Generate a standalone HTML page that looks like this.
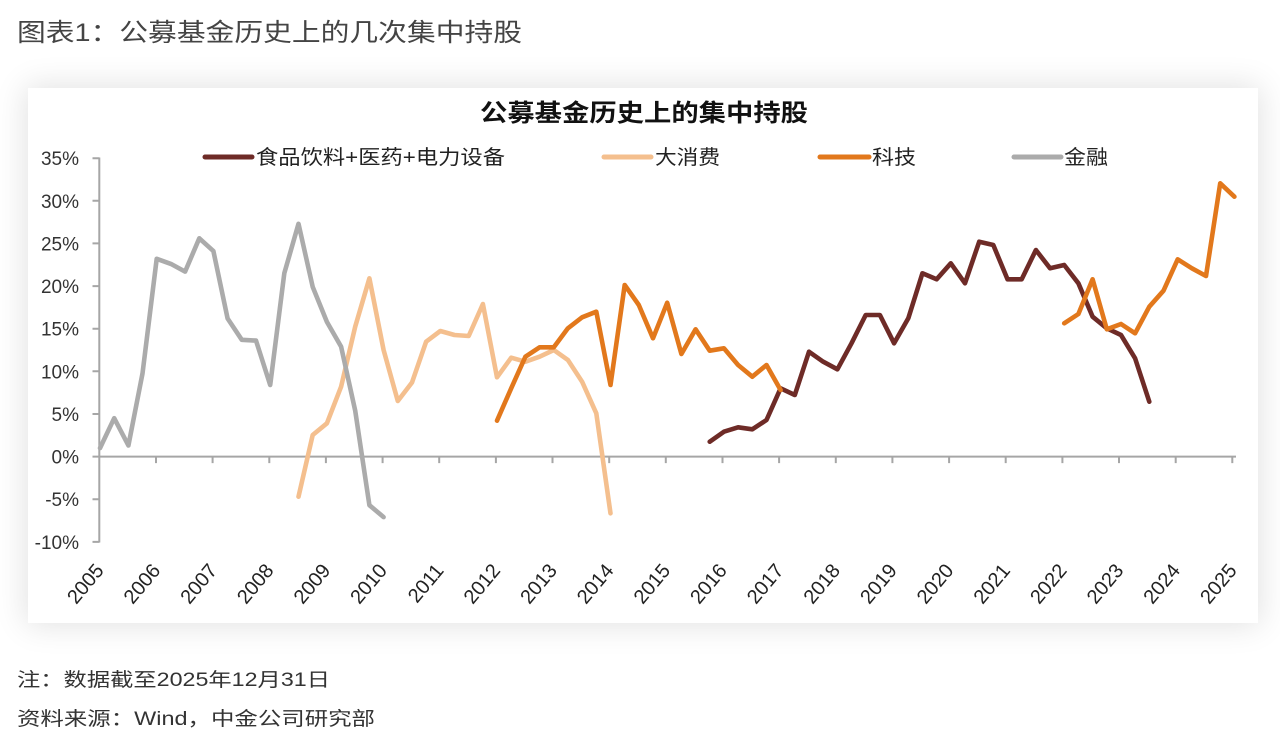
<!DOCTYPE html>
<html><head><meta charset="utf-8">
<style>
html,body{margin:0;padding:0;background:#fff;}
body{width:1280px;height:744px;position:relative;overflow:hidden;}
.card{position:absolute;left:28px;top:88px;width:1230px;height:535px;background:#fff;box-shadow:0 0 30px 2px rgba(0,0,0,0.12);}
svg{position:absolute;left:0;top:0;}
text{font-family:"Liberation Sans","Noto Sans CJK SC",sans-serif;}
</style></head>
<body>
<div class="card"></div>
<svg width="1280" height="744" viewBox="0 0 1280 744" xmlns="http://www.w3.org/2000/svg">
<!-- headings -->
<text x="17" y="41" font-size="25" fill="#444" textLength="505" lengthAdjust="spacingAndGlyphs">图表1：公募基金历史上的几次集中持股</text>
<text x="480" y="121" font-size="24" font-weight="bold" fill="#111" textLength="328" lengthAdjust="spacingAndGlyphs">公募基金历史上的集中持股</text>

<!-- legend -->
<g stroke-width="5" stroke-linecap="round" fill="none">
<line x1="205" y1="157" x2="252" y2="157" stroke="#6E2B27"/>
<line x1="604" y1="157" x2="651" y2="157" stroke="#F4BF8E"/>
<line x1="820" y1="157" x2="869" y2="157" stroke="#E2781C"/>
<line x1="1014" y1="157" x2="1061" y2="157" stroke="#ABABAB"/>
</g>
<g font-size="20" fill="#222">
<text x="256" y="164" textLength="249" lengthAdjust="spacingAndGlyphs">食品饮料+医药+电力设备</text>
<text x="655" y="164" textLength="65" lengthAdjust="spacingAndGlyphs">大消费</text>
<text x="872" y="164" textLength="44" lengthAdjust="spacingAndGlyphs">科技</text>
<text x="1064" y="164" textLength="44" lengthAdjust="spacingAndGlyphs">金融</text>
</g>

<!-- axes -->
<g stroke="#A6A6A6" stroke-width="2" fill="none">
<line x1="99.3" y1="157.5" x2="99.3" y2="542.5"/>
<line x1="99.3" y1="456.6" x2="1236" y2="456.6"/>
<path d="M92.5 158.2H99.3M92.5 200.8H99.3M92.5 243.4H99.3M92.5 286.1H99.3M92.5 328.7H99.3M92.5 371.3H99.3M92.5 414H99.3M92.5 456.6H99.3M92.5 499.2H99.3M92.5 541.9H99.3"/>
<path d="M156 456.6v6.5M212.6 456.6v6.5M269.3 456.6v6.5M325.9 456.6v6.5M382.6 456.6v6.5M439.2 456.6v6.5M495.9 456.6v6.5M552.5 456.6v6.5M609.2 456.6v6.5M665.8 456.6v6.5M722.5 456.6v6.5M779.1 456.6v6.5M835.8 456.6v6.5M892.4 456.6v6.5M949.1 456.6v6.5M1005.7 456.6v6.5M1062.4 456.6v6.5M1119 456.6v6.5M1175.7 456.6v6.5M1232.3 456.6v6.5"/>
</g>

<!-- y labels -->
<g font-size="19" fill="#333" text-anchor="end">
<text x="79" y="165.2">35%</text>
<text x="79" y="207.8">30%</text>
<text x="79" y="250.4">25%</text>
<text x="79" y="293.1">20%</text>
<text x="79" y="335.7">15%</text>
<text x="79" y="378.3">10%</text>
<text x="79" y="421">5%</text>
<text x="79" y="463.6">0%</text>
<text x="79" y="506.2">-5%</text>
<text x="79" y="548.9">-10%</text>
</g>

<!-- x labels -->
<g font-size="20" fill="#222" text-anchor="end">
<text transform="translate(104.8,571) rotate(-50)">2005</text>
<text transform="translate(161.4,571) rotate(-50)">2006</text>
<text transform="translate(218.1,571) rotate(-50)">2007</text>
<text transform="translate(274.7,571) rotate(-50)">2008</text>
<text transform="translate(331.4,571) rotate(-50)">2009</text>
<text transform="translate(388,571) rotate(-50)">2010</text>
<text transform="translate(444.7,571) rotate(-50)">2011</text>
<text transform="translate(501.3,571) rotate(-50)">2012</text>
<text transform="translate(558,571) rotate(-50)">2013</text>
<text transform="translate(614.6,571) rotate(-50)">2014</text>
<text transform="translate(671.3,571) rotate(-50)">2015</text>
<text transform="translate(727.9,571) rotate(-50)">2016</text>
<text transform="translate(784.6,571) rotate(-50)">2017</text>
<text transform="translate(841.2,571) rotate(-50)">2018</text>
<text transform="translate(897.9,571) rotate(-50)">2019</text>
<text transform="translate(954.5,571) rotate(-50)">2020</text>
<text transform="translate(1011.2,571) rotate(-50)">2021</text>
<text transform="translate(1067.8,571) rotate(-50)">2022</text>
<text transform="translate(1124.5,571) rotate(-50)">2023</text>
<text transform="translate(1181.1,571) rotate(-50)">2024</text>
<text transform="translate(1237.8,571) rotate(-50)">2025</text>
</g>

<!-- series -->
<g fill="none" stroke-width="4.6" stroke-linejoin="round" stroke-linecap="round">
<polyline stroke="#6E2B27" points="709.7,441.7 723.9,431.7 738.1,427.3 752.3,429.3 766.5,420 780.6,388.3 794.8,395 809,351.7 823.2,361.7 837.4,369.3 851.5,343.3 865.7,315 879.9,315 894.1,343.3 908.3,318.3 922.4,273.3 936.6,279.3 950.8,263.3 965,283.3 979.2,241.7 993.3,245 1007.5,279.3 1021.7,279.3 1035.9,250 1050.1,268.3 1064.2,265 1078.4,283.3 1092.6,316.7 1106.8,328.3 1121,335 1135.1,358.3 1149.3,401.7"/>
<polyline stroke="#F4BF8E" points="298.5,496.7 312.7,435 326.9,423.3 341.1,386.7 355.2,326.7 369.4,278.3 383.6,350 397.8,401 412,382.5 426.1,341.7 440.3,331 454.5,335 468.7,336 482.9,304 497,377.3 511.2,357.7 525.4,361.7 539.6,356.7 553.8,350 567.9,360 582.1,381.7 596.3,413.3 610.5,513.3"/>
<polyline stroke="#E2781C" points="497,420.7 511.2,388.3 525.4,356.7 539.6,347.3 553.8,347.3 567.9,328.3 582.1,317.3 596.3,311.7 610.5,385 624.7,285 638.8,305 653,338.3 667.2,302.7 681.4,354 695.6,329.3 709.7,350.7 723.9,348.3 738.1,365 752.3,376.7 766.5,365 780.6,390"/>
<polyline stroke="#E2781C" points="1064.2,323.3 1078.4,314 1092.6,279.3 1106.8,329.3 1121,324 1135.1,333.3 1149.3,306.7 1163.5,290.7 1177.7,259.3 1191.9,268.3 1206,276 1220.2,183.3 1234.4,196.7"/>
<polyline stroke="#ABABAB" points="100,448.1 114.2,418.2 128.4,445.5 142.5,373.5 156.7,258.8 170.9,263.9 185.1,271.6 199.3,238.3 213.4,251.1 227.6,318.5 241.8,339.8 256,340.6 270.2,385 284.3,273.3 298.5,223.8 312.7,286.9 326.9,321.9 341.1,346.6 355.2,410.6 369.4,505.2 383.6,517.1"/>
</g>

<!-- footer -->
<text x="17" y="686" font-size="19" fill="#333" textLength="313" lengthAdjust="spacingAndGlyphs">注：数据截至2025年12月31日</text>
<text x="17" y="725" font-size="19" fill="#333" textLength="358" lengthAdjust="spacingAndGlyphs">资料来源：Wind，中金公司研究部</text>
</svg>
</body></html>
